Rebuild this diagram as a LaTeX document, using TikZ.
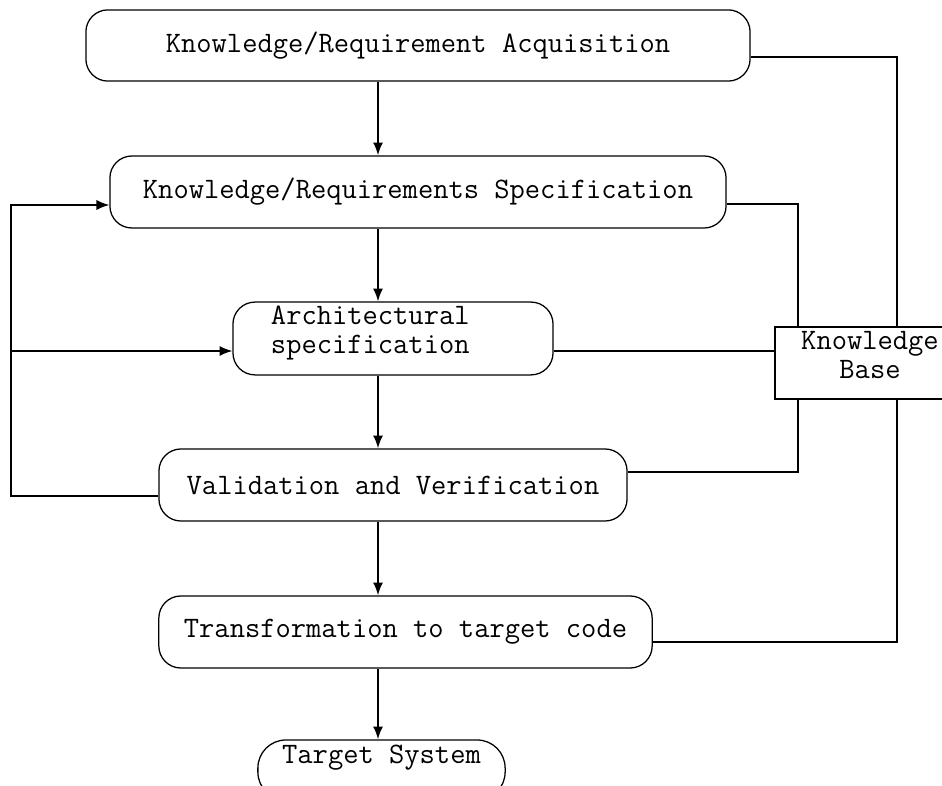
\documentclass[tikz,border=0pt]{standalone}
\usepackage{fontspec}
\usetikzlibrary{arrows.meta,positioning}

\begin{document}
\begin{tikzpicture}[x=0.025cm, y=-0.025cm,
    every node/.style={font=\ttfamily\fontsize{21.1}{20.5}\selectfont},
    stage/.style={draw, line width=0.9pt, rounded corners=0.55cm, inner sep=0pt},
    store/.style={draw, line width=0.9pt, inner sep=0pt},
    flow/.style={line width=1.3pt, -{Latex[length=0.32cm,width=0.25cm]}},
    link/.style={line width=1.4pt},
    thinlink/.style={line width=0.9pt}]
    \useasboundingbox (0,0) rectangle (942,786);
    % Process stages
    \node[stage, minimum width=16.6cm, minimum height=1.78cm] (acq) at (418,45.5)
      {Knowledge/Requirement Acquisition};
    \node[stage, minimum width=15.4cm, minimum height=1.8cm] (spec) at (418,192)
      {Knowledge/Requirements Specification};
    \node[stage, minimum width=8cm, minimum height=1.82cm] (arch) at (393,338.5) {};
    \node[anchor=west, align=left] (archtext) at (266,333)
      {Architectural\\specification};
    \node[stage, minimum width=11.7cm, minimum height=1.8cm] (val) at (393,485)
      {Validation and Verification};
    \node[stage, minimum width=12.33cm, minimum height=1.8cm] (trans) at (405.5,632)
      {Transformation to target code};
    \node[stage, rounded corners=0.7cm, minimum width=6.18cm, minimum height=1.5cm] (target) at (381.5,770) {};
    \node (targettext) at (381.5,758) {Target System};
    % Knowledge base on the right
    \node[store, minimum width=4.75cm, minimum height=1.8cm] (kb) at (870,363) {};
    \node[align=center] (kbtext) at (870,355) {Knowledge\\Base};
    % Helper points
    \coordinate (spine) at (378,0);
    \coordinate (rtop) at (897,57);
    \coordinate (rbot) at (897,642);
    \coordinate (ltop) at (798,204);
    \coordinate (lbot) at (798,472);
    \coordinate (kbin) at (775,351);
    \coordinate (fb) at (11,496);
    \coordinate (fbtop) at (11,205);
    % Main flow
    \foreach \a/\b in {acq/spec,spec/arch,arch/val,val/trans,trans/target}
      \draw[flow] (\a.south -| spine) -- (\b.north -| spine);
    % Links to the knowledge base
    \draw[link] (acq.east |- rtop) -- (rtop) -- (kb.north -| rtop);
    \draw[link] (kb.south -| rbot) -- (rbot) -- (trans.east |- rbot);
    \draw[thinlink] (spec.east |- ltop) -- (ltop) -- (kb.north -| ltop);
    \draw[thinlink] (kb.south -| lbot) -- (lbot) -- (val.east |- lbot);
    \draw[link] (arch.east |- kbin) -- (kbin);
    % Feedback from validation
    \draw[thinlink, flow, line width=0.9pt] (val.west |- fb) -- (fb) -- (fbtop) -- (spec.west |- fbtop);
    \draw[thinlink, flow, line width=0.9pt] (fb |- kbin) -- (arch.west |- kbin);
\end{tikzpicture}
\end{document}
